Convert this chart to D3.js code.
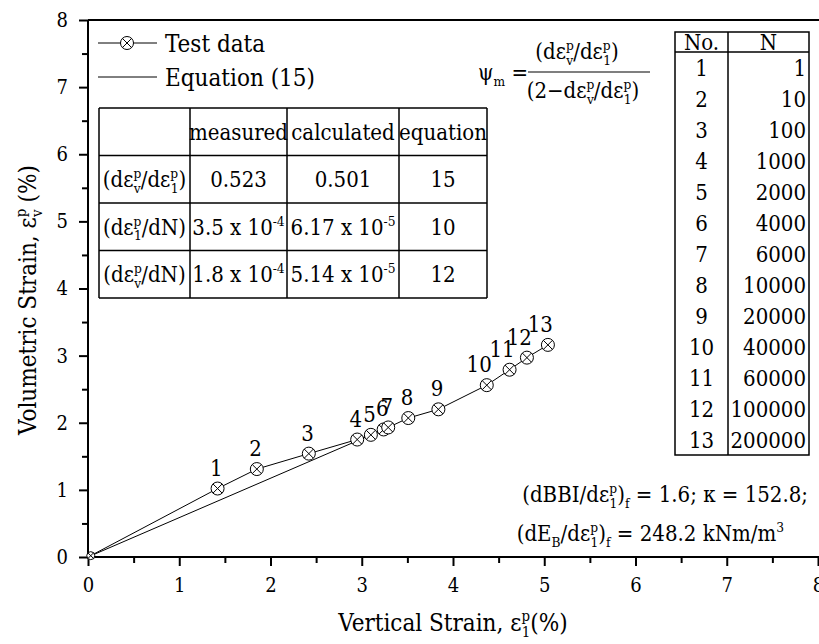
<!DOCTYPE html>
<html>
<head>
<meta charset="utf-8">
<script src="https://cdn.jsdelivr.net/npm/d3@7"></script>
<style>
  body { margin: 0; background: #fff; }
  text { white-space: pre; fill: #000; font-stretch: condensed; }
</style>
</head>
<body>
<svg class="chart"></svg>
<script>
// DATA ///////////////////////////////////////
// test data: vertical strain (%) and volumetric strain (%)
const testX = [0.03, 1.42, 1.85, 2.42, 2.95, 3.10, 3.24, 3.29, 3.51, 3.84, 4.37, 4.62, 4.81, 5.04];
const testY = [0.02, 1.02, 1.31, 1.54, 1.75, 1.82, 1.90, 1.93, 2.07, 2.20, 2.56, 2.79, 2.97, 3.16];
const pointLabels = ["", "1", "2", "3", "4", "5", "6", "7", "8", "9", "10", "11", "12", "13"];

// equation (15) line
const eqX = [0, 3.29];
const eqY = [0, 1.93];

const xTicks = [0, 1, 2, 3, 4, 5, 6, 7, 8];
const yTicks = [0, 1, 2, 3, 4, 5, 6, 7, 8];

// cycle table
const cycleNo = [1, 2, 3, 4, 5, 6, 7, 8, 9, 10, 11, 12, 13];
const cycleN = [1, 10, 100, 1000, 2000, 4000, 6000, 10000, 20000, 40000, 60000, 100000, 200000];

// rate table
const rateHeader = ["", "measured", "calculated", "equation"];
const rateMeasured = ["0.523", "3.5 x 10^-4", "1.8 x 10^-4"];
const rateCalculated = ["0.501", "6.17 x 10^-5", "5.14 x 10^-5"];
const rateEquation = ["15", "10", "12"];

// DEFINITIONS ////////////////////////////////
const FONT = '"DejaVu Serif Condensed", "DejaVu Serif", serif';
const W = 819, H = 644;
const svg = d3.select(".chart").attr("width", W).attr("height", H).style("font-family", FONT);
svg.append("rect").attr("width", W).attr("height", H).attr("fill", "#fff");

const x = d3.scaleLinear().domain([0, 8]).range([88, 818]);
const y = d3.scaleLinear().domain([0, 8]).range([557, 20]);

// text with sup / sub / stacked sup-over-sub
const rich = (g, px, py, parts, size, anchor = "start") => {
  const t = g.append("text").attr("x", px).attr("y", py)
    .attr("font-size", size).attr("text-anchor", anchor).style("font-family", FONT);
  const small = size * 0.62;
  const up = -size * 0.42, dn = size * 0.26;
  let off = 0;
  parts.forEach((p) => {
    if (typeof p === "string") {
      t.append("tspan").attr("dy", -off).text(p);
      off = 0;
    } else {
      if (p.sup !== undefined) {
        t.append("tspan").attr("dy", up - off).attr("font-size", small).text(p.sup);
        off = up;
      }
      if (p.sub !== undefined) {
        const s = t.append("tspan").attr("dy", dn - off).attr("font-size", small).text(p.sub);
        if (p.sup !== undefined) s.attr("dx", -small * 0.55 * p.sup.length);
        off = dn;
      }
    }
  });
  return t;
};

// "3.5 x 10^-4" -> rich parts
const powParts = (s) => {
  const [base, exp] = s.split("^");
  return exp ? [base, { sup: exp }] : [base];
};

const epsV = ["dε", { sup: "p", sub: "v" }];
const eps1 = ["dε", { sup: "p", sub: "1" }];

// AXES ///////////////////////////////////////
const minorX = d3.range(0.5, 8, 1);
const minorY = d3.range(0.5, 8, 1);

const xAxis = svg.append("g").attr("transform", `translate(0,${y(0)})`)
  .call(d3.axisBottom(x).tickValues(xTicks).tickSize(9).tickPadding(12).tickFormat(d3.format("d")));
svg.append("g").attr("transform", `translate(0,${y(0)})`)
  .call(d3.axisBottom(x).tickValues(minorX).tickSize(6).tickFormat(""))
  .select(".domain").remove();

const yAxis = svg.append("g").attr("transform", `translate(${x(0)},0)`)
  .call(d3.axisLeft(y).tickValues(yTicks).tickSize(9).tickPadding(11).tickFormat(d3.format("d")));
svg.append("g").attr("transform", `translate(${x(0)},0)`)
  .call(d3.axisLeft(y).tickValues(minorY).tickSize(6).tickFormat(""))
  .select(".domain").remove();

svg.selectAll("g").attr("font-family", null);
svg.selectAll(".domain").attr("stroke-width", 2);
xAxis.select(".domain").attr("d", `M${x(0)},0H${x(8) + 2}`);
yAxis.select(".domain").attr("d", `M0,${y(0) + 1}V${y(8)}`);
svg.selectAll(".tick line").attr("stroke-width", 2);
svg.selectAll(".tick text").attr("font-size", 20).style("font-family", FONT);

// top frame line
svg.append("line").attr("x1", x(0)).attr("x2", W).attr("y1", y(8)).attr("y2", y(8))
  .attr("stroke", "#000").attr("stroke-width", 2);

// axis titles
rich(svg, 453, 631, ["Vertical Strain, ε", { sup: "p", sub: "1" }, "(%)"], 24, "middle");
const yTitle = svg.append("g").attr("transform", "translate(36,300) rotate(-90)");
rich(yTitle, 0, 0, ["Volumetric Strain, ε", { sup: "p", sub: "v" }, " (%)"], 24, "middle");

// RATE TABLE ////////////////////////////////
const rateCols = d3.scaleOrdinal().domain([0, 1, 2, 3, 4]).range([99, 190, 287, 399, 487]);
const rateRows = d3.scaleBand().domain([0, 1, 2, 3]).range([108, 298]);
const rt = svg.append("g").attr("stroke", "#000").attr("stroke-width", 1.5);
[0, 1, 2, 3, 4].forEach((c) =>
  rt.append("line").attr("x1", rateCols(c)).attr("x2", rateCols(c))
    .attr("y1", rateRows.range()[0]).attr("y2", rateRows.range()[1]));
[0, 1, 2, 3].forEach((r) =>
  rt.append("line").attr("x1", rateCols(0)).attr("x2", rateCols(4))
    .attr("y1", rateRows(r)).attr("y2", rateRows(r)));
rt.append("line").attr("x1", rateCols(0)).attr("x2", rateCols(4))
  .attr("y1", rateRows.range()[1]).attr("y2", rateRows.range()[1]);

const cellX = (c) => (rateCols(c) + rateCols(c + 1)) / 2;
const cellY = (r) => rateRows(r) + rateRows.bandwidth() / 2 + 8;
const tg = svg.append("g");
rateHeader.forEach((h, c) => { if (h) rich(tg, cellX(c), cellY(0), [h], 22, "middle"); });
const rowNames = [
  ["(", ...epsV, "/", ...eps1, ")"],
  ["(", ...eps1, "/dN)"],
  ["(", ...epsV, "/dN)"],
];
rowNames.forEach((p, r) => rich(tg, cellX(0), cellY(r + 1), p, 22, "middle"));
rateMeasured.forEach((v, r) => rich(tg, cellX(1), cellY(r + 1), powParts(v), 22, "middle"));
rateCalculated.forEach((v, r) => rich(tg, cellX(2), cellY(r + 1), powParts(v), 22, "middle"));
rateEquation.forEach((v, r) => rich(tg, cellX(3), cellY(r + 1), [v], 22, "middle"));

// CYCLE TABLE ////////////////////////////////
const cL = 675, cM = 728, cR = 809, cTop = 32, cHead = 52;
const cycleRows = d3.scaleBand().domain(cycleNo).range([cHead, 455]);
const ct = svg.append("g").attr("stroke", "#000").attr("stroke-width", 1.5);
ct.append("rect").attr("x", cL).attr("y", cTop).attr("width", cR - cL).attr("height", 455 - cTop)
  .attr("fill", "none");
ct.append("line").attr("x1", cM).attr("x2", cM).attr("y1", cTop).attr("y2", 455);
ct.append("line").attr("x1", cL).attr("x2", cR).attr("y1", cHead).attr("y2", cHead);
rich(svg, (cL + cM) / 2, 50, ["No."], 22, "middle");
rich(svg, (cM + cR) / 2, 50, ["N"], 22, "middle");
cycleNo.forEach((n, i) => {
  const yy = cycleRows(n) + cycleRows.bandwidth() / 2 + 8;
  rich(svg, (cL + cM) / 2, yy, [String(n)], 22, "middle");
  rich(svg, cR - 3, yy, [String(cycleN[i])], 22, "end");
});

// FORMULA ////////////////////////////////////
rich(svg, 478, 80, ["ψ", { sub: "m" }, " ="], 22);
rich(svg, 577, 59, ["(", ...epsV, "/", ...eps1, ")"], 22, "middle");
svg.append("line").attr("x1", 528).attr("x2", 650).attr("y1", 72).attr("y2", 72)
  .attr("stroke", "#000").attr("stroke-width", 1.2);
rich(svg, 583, 98, ["(2−", ...epsV, "/", ...eps1, ")"], 22, "middle");

// ANNOTATIONS ////////////////////////////////
rich(svg, 808, 502, ["(dBBI/", ...eps1, ")", { sub: "f" }, " = 1.6; κ = 152.8;"], 22, "end");
rich(svg, 784, 541, ["(dE", { sub: "B" }, "/", ...eps1, ")", { sub: "f" }, " = 248.2 kNm/m", { sup: "3" }], 22, "end");

// SERIES /////////////////////////////////////
const line = d3.line().x((d) => x(d[0])).y((d) => y(d[1]));
const testPts = testX.map((v, i) => [v, testY[i]]);
const eqPts = eqX.map((v, i) => [v, eqY[i]]);

svg.append("path").attr("d", line(eqPts)).attr("fill", "none").attr("stroke", "#000").attr("stroke-width", 1);
svg.append("path").attr("d", line(testPts)).attr("fill", "none").attr("stroke", "#000").attr("stroke-width", 1);

const marker = (g, cx, cy, r) => {
  const m = g.append("g").attr("transform", `translate(${cx},${cy})`)
    .attr("stroke", "#000").attr("stroke-width", 1).attr("fill", "#fff");
  m.append("circle").attr("r", r);
  const k = r * 0.707;
  m.append("path").attr("d", `M${-k},${-k}L${k},${k}M${-k},${k}L${k},${-k}`);
};

const mg = svg.append("g");
testPts.forEach((p, i) => marker(mg, x(p[0]), y(p[1]), i === 0 ? 4 : 6.5));
testPts.forEach((p, i) => {
  if (pointLabels[i]) rich(svg, x(p[0]) + 5, y(p[1]) - 13, [pointLabels[i]], 22, "end");
});

// LEGEND /////////////////////////////////////
const lg = svg.append("g");
lg.append("line").attr("x1", 98).attr("x2", 157).attr("y1", 43).attr("y2", 43)
  .attr("stroke", "#000").attr("stroke-width", 1);
marker(lg, 127, 43, 6.5);
rich(lg, 165, 52, ["Test data"], 24);
lg.append("line").attr("x1", 98).attr("x2", 157).attr("y1", 77).attr("y2", 77)
  .attr("stroke", "#000").attr("stroke-width", 1);
rich(lg, 165, 86, ["Equation (15)"], 24);
</script>
</body>
</html>
